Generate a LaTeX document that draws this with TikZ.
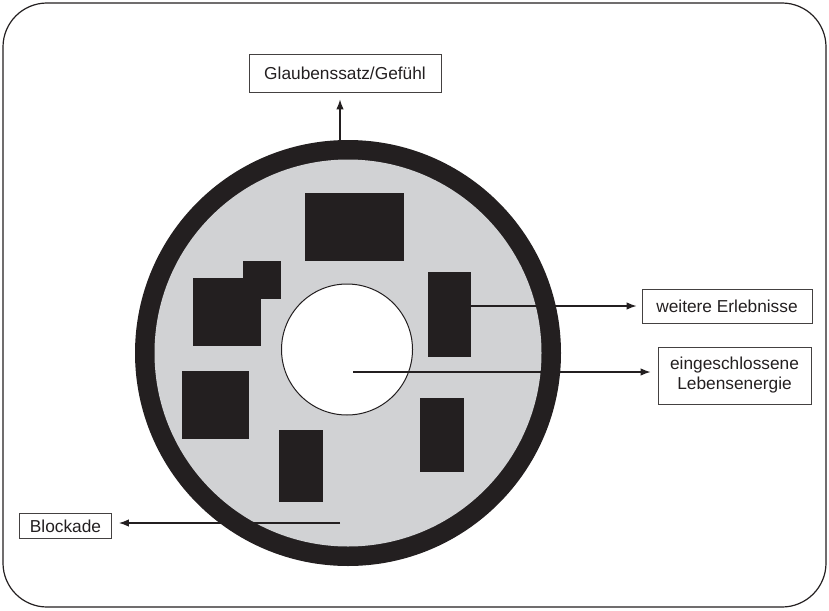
\documentclass[tikz,border=0pt]{standalone}
\usepackage{fontspec}
\setmainfont{Liberation Sans}
\usetikzlibrary{arrows.meta}
\definecolor{ringgray}{RGB}{209,210,212}
\definecolor{inkblack}{RGB}{35,31,32}

\begin{document}
\begin{tikzpicture}[x=1pt, y=-1pt,
  label/.style = {draw=inkblack!85, line width=0.9pt, inner sep=0pt,
    align=center, text=inkblack, font=\fontsize{17.3}{20}\selectfont},
  block/.style = {fill=inkblack, inner sep=0pt},
  pointer/.style = {draw=inkblack, line width=1.2pt,
    -{Latex[length=10pt,width=7.5pt]}}]
  \useasboundingbox (0,0) rectangle (829,610);
  \draw[inkblack, line width=1.2pt, rounded corners=44pt] (3,3) rectangle (826,607);
  % disc with ring
  \fill[inkblack] (348,353) circle (213pt);
  \fill[ringgray] (348,353) circle (193.5pt);
  \node[block, minimum width=99pt, minimum height=68pt] (b1) at (354.5,227) {};
  \node[block, minimum width=38pt, minimum height=38pt] (b2) at (262,280) {};
  \node[block, minimum width=68pt, minimum height=68pt] (b3) at (227,312) {};
  \node[block, minimum width=67pt, minimum height=68pt] (b4) at (215.5,405) {};
  \node[block, minimum width=44pt, minimum height=72pt] (b5) at (301,466) {};
  \node[block, minimum width=43pt, minimum height=85pt] (b6) at (449.5,314.5) {};
  \node[block, minimum width=44pt, minimum height=74pt] (b7) at (442,435) {};
  \node[circle, draw=inkblack, fill=white, line width=1pt, minimum size=131pt,
    inner sep=0pt] (core) at (347,349.5) {};
  % labels
  \node[label, minimum width=192pt, minimum height=38pt] (belief) at (345,73)
    {Glaubenssatz/Gefühl};
  \node[label, minimum width=170pt, minimum height=34pt] (events) at (727,306)
    {weitere Erlebnisse};
  \node[label, minimum width=153pt, minimum height=57pt] (energy) at (734.5,375.5)
    {eingeschlossene\\Lebensenergie};
  \node[label, minimum width=92pt, minimum height=25pt] (blockade) at (65.5,526)
    {Blockade};
  \coordinate (ringtop) at (340,141);
  \coordinate (centre) at (353,372);
  \coordinate (blockstart) at (340,523);
  \draw[pointer, shorten >=7pt] (ringtop) -- (ringtop |- belief.south);
  \draw[pointer, shorten >=5pt] (b6.east |- events.west) -- (events.west);
  \draw[pointer, shorten >=7pt] (centre) -- (centre -| energy.west);
  \draw[pointer, shorten >=7pt] (blockstart) -- (blockstart -| blockade.east);
\end{tikzpicture}
\end{document}
